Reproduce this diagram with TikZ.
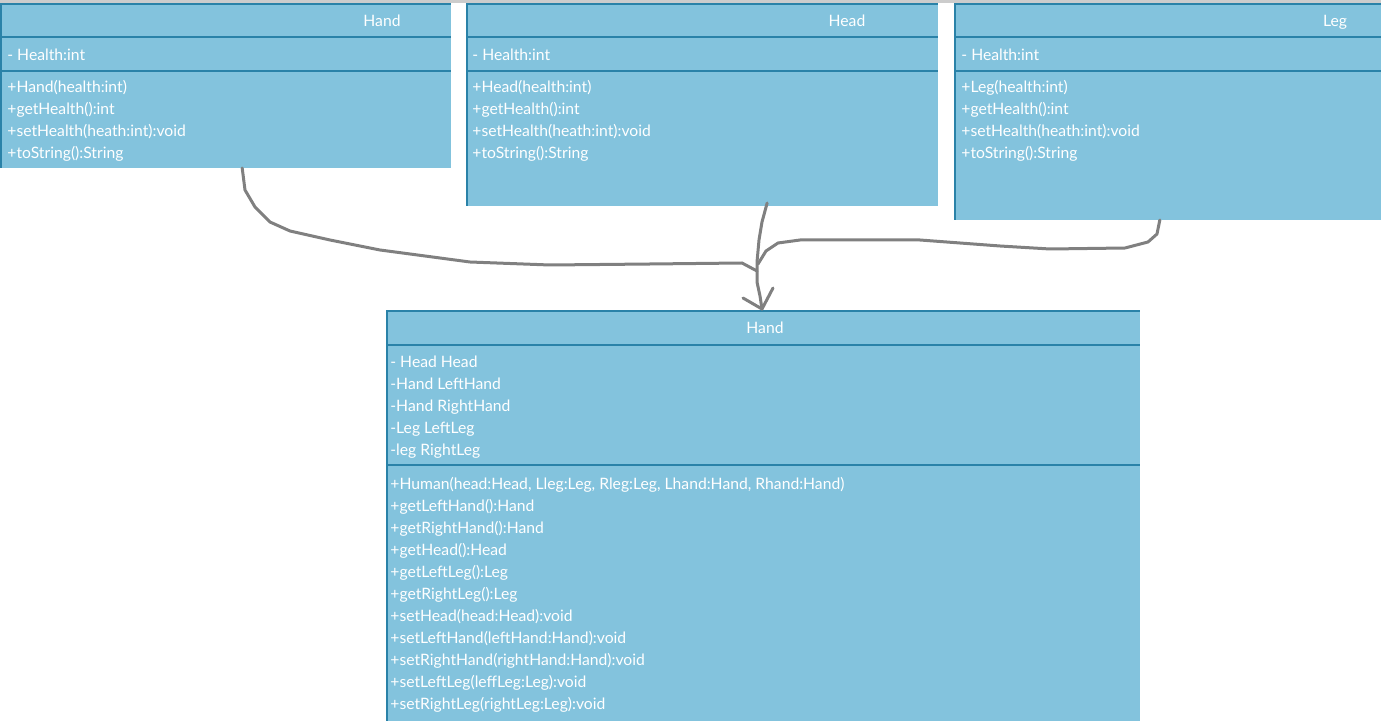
\documentclass[tikz,border=0pt]{standalone}
\usepackage{fontspec}
\setmainfont{Lato}
\usetikzlibrary{calc}
\definecolor{umlfill}{RGB}{131,195,221}
\definecolor{umledge}{RGB}{42,130,168}
\definecolor{wire}{RGB}{128,128,128}
\tikzset{
  umlbox/.style={fill=umlfill, draw=none, anchor=north west, inner sep=0pt, outer sep=0pt},
  umltxt/.style={text=white, font=\fontsize{7.85}{9}\selectfont, anchor=base west, inner sep=0pt},
  umltitle/.style={text=white, font=\fontsize{7.85}{9}\selectfont, anchor=base, inner sep=0pt},
  sepline/.style={draw=umledge, line width=1.3pt},
  edgeline/.style={draw=umledge, line width=1pt},
  wireline/.style={draw=wire, line width=1.5pt, line cap=round, line join=round},
}
\begin{document}
\begin{tikzpicture}[x=0.5pt,y=-0.5pt]
\useasboundingbox (0,0) rectangle (1381,721);
\fill[black!20] (0,0) rectangle (1381,3);

% ---- Hand (top left)
\node[umlbox, minimum width=225.5pt, minimum height=82pt] (hand) at (0,4) {};
\draw[edgeline] ($(hand.north west)+(1,0)$) -- ($(hand.south west)+(1,0)$);
\draw[edgeline] (hand.north west) -- (hand.north east);
\draw[sepline] ($(hand.north west)+(0,33)$) -- ($(hand.north east)+(0,33)$);
\draw[sepline] ($(hand.north west)+(0,67)$) -- ($(hand.north east)+(0,67)$);
\node[umltitle] (handT) at (382,27) {Hand};
\node[umltxt] (handA) at (7,61) {- Health:int};
\node[umltxt] (handM1) at (7,93) {+Hand(health:int)};
\node[umltxt] (handM2) at (7,115) {+getHealth():int};
\node[umltxt] (handM3) at (7,137) {+setHealth(heath:int):void};
\node[umltxt] (handM4) at (7,159) {+toString():String};

% ---- Head
\node[umlbox, minimum width=236pt, minimum height=101pt] (head) at (466,4) {};
\draw[edgeline] ($(head.north west)+(1,0)$) -- ($(head.south west)+(1,0)$);
\draw[edgeline] (head.north west) -- (head.north east);
\draw[sepline] ($(head.north west)+(0,33)$) -- ($(head.north east)+(0,33)$);
\draw[sepline] ($(head.north west)+(0,67)$) -- ($(head.north east)+(0,67)$);
\node[umltitle] (headT) at (847,27) {Head};
\node[umltxt] (headA) at (472,61) {- Health:int};
\node[umltxt] (headM1) at (472,93) {+Head(health:int)};
\node[umltxt] (headM2) at (472,115) {+getHealth():int};
\node[umltxt] (headM3) at (472,137) {+setHealth(heath:int):void};
\node[umltxt] (headM4) at (472,159) {+toString():String};

% ---- Leg
\node[umlbox, minimum width=213.5pt, minimum height=108pt] (leg) at (954,4) {};
\draw[edgeline] ($(leg.north west)+(1,0)$) -- ($(leg.south west)+(1,0)$);
\draw[edgeline] (leg.north west) -- (leg.north east);
\draw[sepline] ($(leg.north west)+(0,33)$) -- ($(leg.north east)+(0,33)$);
\draw[sepline] ($(leg.north west)+(0,67)$) -- ($(leg.north east)+(0,67)$);
\node[umltitle] (legT) at (1335,27) {Leg};
\node[umltxt] (legA) at (961,61) {- Health:int};
\node[umltxt] (legM1) at (961,93) {+Leg(health:int)};
\node[umltxt] (legM2) at (961,115) {+getHealth():int};
\node[umltxt] (legM3) at (961,137) {+setHealth(heath:int):void};
\node[umltxt] (legM4) at (961,159) {+toString():String};

% ---- Human (bottom)
\node[umlbox, minimum width=377pt, minimum height=205pt] (human) at (386,311) {};
\draw[edgeline] ($(human.north west)+(1,0)$) -- ($(human.south west)+(1,0)$);
\draw[sepline] (human.north west) -- (human.north east);
\draw[sepline] ($(human.north west)+(0,34)$) -- ($(human.north east)+(0,34)$);
\draw[sepline] ($(human.north west)+(0,154)$) -- ($(human.north east)+(0,154)$);
\node[umltitle] (humanT) at (765,334) {Hand};
\node[umltxt] (humanA1) at (390,368) {- Head Head};
\node[umltxt] (humanA2) at (390,390) {-Hand LeftHand};
\node[umltxt] (humanA3) at (390,412) {-Hand RightHand};
\node[umltxt] (humanA4) at (390,434) {-Leg LeftLeg};
\node[umltxt] (humanA5) at (390,456) {-leg RightLeg};
\node[umltxt] (humanM1) at (390,489) {+Human(head:Head, Lleg:Leg, Rleg:Leg, Lhand:Hand, Rhand:Hand)};
\node[umltxt] (humanM2) at (390,511) {+getLeftHand():Hand};
\node[umltxt] (humanM3) at (390,533) {+getRightHand():Hand};
\node[umltxt] (humanM4) at (390,555) {+getHead():Head};
\node[umltxt] (humanM5) at (390,577) {+getLeftLeg():Leg};
\node[umltxt] (humanM6) at (390,599) {+getRightLeg():Leg};
\node[umltxt] (humanM7) at (390,621) {+setHead(head:Head):void};
\node[umltxt] (humanM8) at (390,643) {+setLeftHand(leftHand:Hand):void};
\node[umltxt] (humanM9) at (390,665) {+setRightHand(rightHand:Hand):void};
\node[umltxt] (humanM10) at (390,687) {+setLeftLeg(leffLeg:Leg):void};
\node[umltxt] (humanM11) at (390,709) {+setRightLeg(rightLeg:Leg):void};

% ---- connectors
\coordinate (handS) at ($(hand.south west)!0.537!(hand.south east)$);
\coordinate (headS) at ($(head.south west)!0.638!(head.south east)+(0,-3)$);
\coordinate (legS) at ($(leg.south west)!0.482!(leg.south east)$);
\coordinate (tip) at ($(human.north)+(-1,-2)$);

\draw[wireline] (handS) -- (245,190) -- (255,207) -- (270,222) -- (290,231) -- (330,240)
  -- (380,250) -- (470,262) -- (550,265) -- (650,264) -- (742,263) -- (757,271);
\draw[wireline] (headS) -- (762,222) -- (759,240) -- (757,262) -- (757,282) -- (760,296) -- (tip);
\draw[wireline] (legS) -- (1157,234) -- (1148,242) -- (1125,248) -- (1050,249) -- (1000,246)
  -- (960,243) -- (920,240) -- (800,240) -- (778,243) -- (766,251) -- (758,264);
\draw[wireline] (743,298) -- (tip) -- (773,288);
\end{tikzpicture}
\end{document}
